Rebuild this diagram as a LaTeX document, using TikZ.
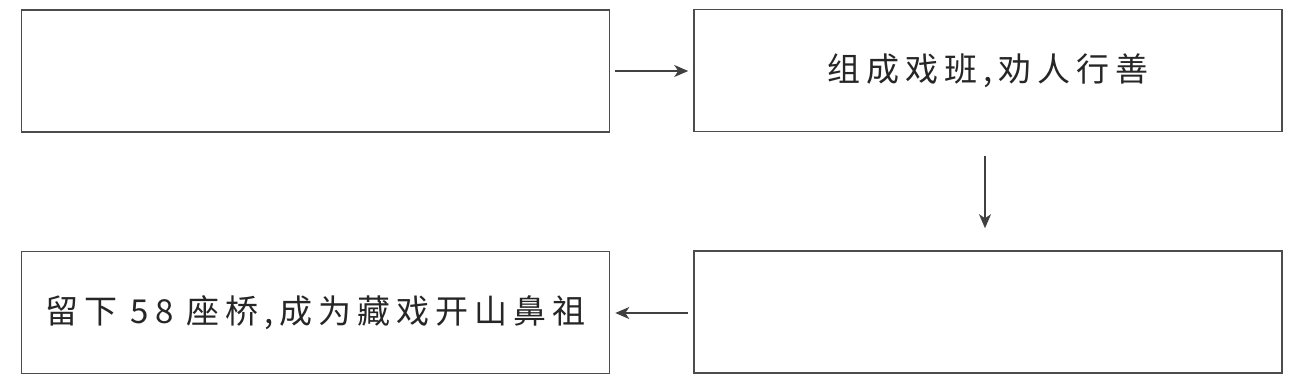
\documentclass[tikz,border=0pt]{standalone}
\usepackage{fontspec}
\newfontfamily\cjk[LetterSpace=18]{Noto Sans CJK SC}
\usetikzlibrary{arrows.meta}
\begin{document}
\begin{tikzpicture}[x=1pt,y=-1pt,
  flowbox/.style={draw=black!70,line width=1.6pt,inner sep=0pt,minimum width=588pt,minimum height=122pt,font=\cjk\fontsize{33}{38}\selectfont,text=black!85},
  conn/.style={draw=black!75,line width=1.4pt,-{Stealth[length=14pt,width=12pt,inset=4pt]}}]
\useasboundingbox (0,0) rectangle (1303,389);
\fill[white] (0,0) rectangle (1303,389);
\node[flowbox] (a) at (315.5,71) {};
\node[flowbox] (b) at (988,70.5) {组成戏班,劝人行善};
\node[flowbox] (c) at (988,312) {};
\node[flowbox] (d) at (315.5,312.5) {留下 58 座桥,成为藏戏开山鼻祖};
\draw[conn,shorten <=5pt,shorten >=5pt] (a.east) -- (a.east -| b.west);
\draw[conn,shorten <=24pt,shorten >=22pt] (b.south -| 985,0) -- (c.north -| 985,0);
\draw[conn,shorten <=5pt,shorten >=5pt] (c.west |- 0,313) -- (d.east |- 0,313);
\end{tikzpicture}
\end{document}
